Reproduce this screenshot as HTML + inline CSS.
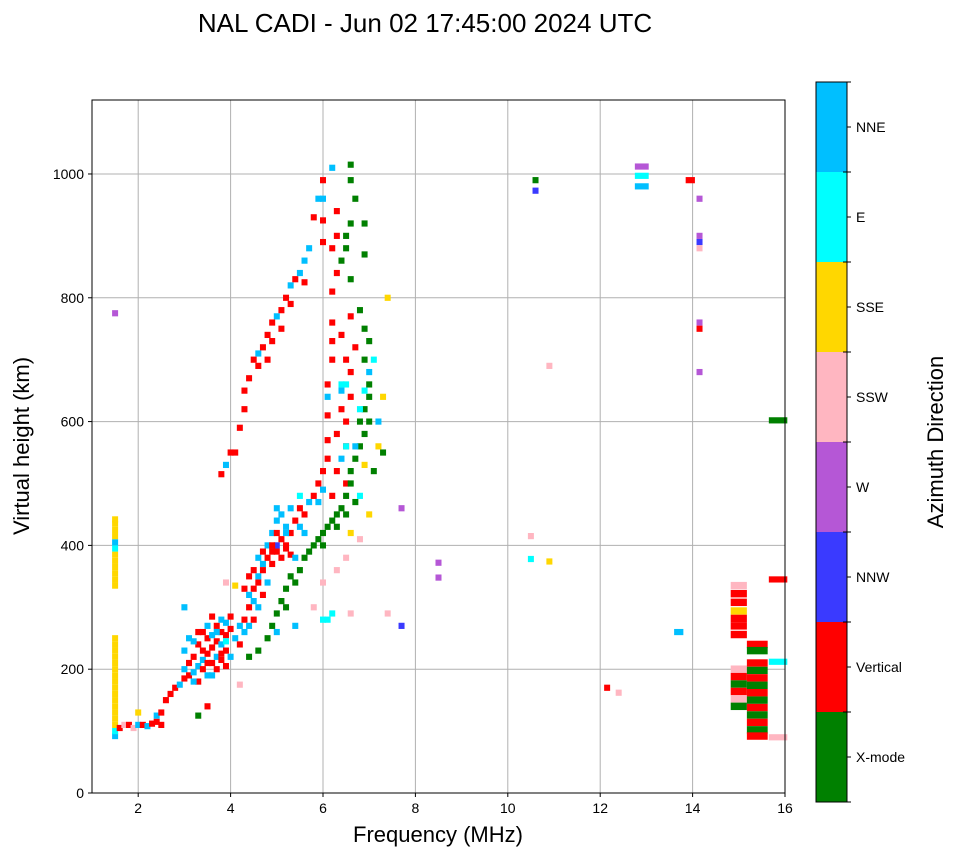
<!DOCTYPE html>
<html><head><meta charset="utf-8">
<style>
body{margin:0;background:#fff;font-family:"Liberation Sans",sans-serif;}
svg text{font-family:"Liberation Sans",sans-serif;}
</style></head>
<body>
<svg id="chart" width="958" height="857" xmlns="http://www.w3.org/2000/svg">
<text x="425" y="32" font-size="26" text-anchor="middle">NAL CADI - Jun 02 17:45:00 2024 UTC</text>
<g id="grid"></g>
<g id="cells"></g>
<rect x="92" y="100" width="693" height="693" fill="none" stroke="#000" stroke-width="1"/>
<g id="ticks"></g>
<text x="438" y="842" font-size="22" text-anchor="middle">Frequency (MHz)</text>
<text transform="translate(29,446) rotate(-90)" font-size="22" text-anchor="middle">Virtual height (km)</text>
<g id="cbar"></g>
<text transform="translate(943,442) rotate(-90)" font-size="22" text-anchor="middle">Azimuth Direction</text>
</svg>
<script>
const directions = ["X-mode","Vertical","NNW","W","SSW","SSE","E","NNE"];
const dirColors = ["#008000","#ff0000","#3a3aff","#b557d6","#ffb6c1","#ffd700","#00ffff","#00bfff"];
const xTicks = [2,4,6,8,10,12,14,16];
const yTicks = [0,200,400,600,800,1000];
// echoes: [frequency MHz, virtual height km, direction index, optional width MHz, optional height km]
const echoes = [
[2.7,160,1],[2.8,170,1],[2.9,175,7],[3.0,185,1],[3.0,200,7],[3.0,230,7],[3.0,300,7],[3.1,190,1],[3.1,210,1],[3.1,250,7],[3.2,195,7],[3.2,220,1],[3.3,180,1],[3.3,205,7],[3.3,240,1],[3.4,200,1],[3.4,215,7],[3.4,260,1],[3.5,190,7],[3.5,225,1],[3.5,250,1],[3.5,270,7],[3.6,210,1],[3.6,235,1],[3.6,255,7],[3.6,285,1],[3.7,200,1],[3.7,220,7],[3.7,245,1],[3.7,270,1],[3.8,215,1],[3.8,240,7],[3.8,260,1],[3.8,280,7],[3.9,205,1],[3.9,230,1],[3.9,255,1],[3.9,275,7],[4.0,220,7],[4.0,265,1],[4.0,285,1],
[3.2,180,7],[3.4,230,1],[3.5,210,1],[3.6,190,7],[3.7,260,7],[3.8,225,1],[3.9,245,6],[3.3,260,1],[3.2,245,7],
[4.1,250,7],[4.2,240,1],[4.2,270,7],[4.3,280,1],[4.3,260,7],[4.4,300,1],[4.4,270,7],[4.5,330,1],[4.5,280,1],[4.5,310,7],[4.6,340,1],[4.6,300,7],[4.6,350,7],[4.7,360,1],[4.7,320,1],[4.7,370,7],[4.8,380,1],[4.8,340,7],[4.8,400,7],[4.9,370,1],[4.9,390,1],[4.9,420,7],[5.0,390,1],[5.0,400,2],[5.0,440,7],[5.1,380,1],[5.1,410,1],[5.1,450,7],[5.2,400,1],[5.2,430,7],[5.3,420,1],[5.3,460,7],[5.4,440,1],[5.5,430,7],[5.5,460,1],[5.6,450,1],[5.7,470,7],[5.8,480,1],[5.9,500,1],[5.9,470,7],[6.0,520,1],[6.0,490,7],
[4.4,350,1],[4.5,360,1],[4.6,380,7],[4.7,390,1],[4.9,400,1],[5.0,420,1],[5.2,395,1],[5.3,385,1],[4.3,330,1],[4.4,320,7],
[6.1,540,1],[6.1,570,1],[6.1,610,1],[6.1,640,7],[6.1,660,1],[6.2,700,1],[6.2,730,1],[6.2,760,1],[6.2,810,1],[6.3,840,1],[6.2,880,1],[6.3,900,1],[6.3,940,1],[6.2,1010,7],[6.0,990,1],[6.0,960,7],[6.0,925,1],[6.0,890,1],[6.4,620,1],[6.4,660,6],[6.5,600,1],[6.6,640,1],[6.6,680,1],[6.5,700,1],[6.4,740,1],[6.7,720,1],[6.6,770,1],[6.3,580,1],[6.3,520,1],[6.4,540,7],[6.5,560,1],[6.5,500,1],[6.2,480,1],
[3.8,515,1],[3.9,530,7],[4.1,550,1],[4.2,590,1],[4.3,620,1],[4.3,650,1],[4.4,670,1],[4.5,700,1],[4.6,710,7],[4.6,690,1],[4.7,720,1],[4.8,740,1],[4.8,700,1],[4.9,730,1],[4.9,760,1],[5.0,770,7],[5.1,780,1],[5.1,750,1],[5.2,800,1],[5.3,790,1],[5.3,820,7],[5.4,830,1],[5.5,840,7],[5.6,860,7],[5.6,825,1],[5.7,880,7],[5.8,930,1],[5.9,960,7],[4.0,550,1],
[4.4,220,0],[4.6,230,0],[4.8,250,0],[4.9,270,0],[5.0,290,0],[5.1,310,0],[5.2,330,0],[5.2,300,0],[5.3,350,0],[5.4,340,0],[5.5,360,0],[5.6,380,0],[5.7,390,0],[5.8,400,0],[5.9,410,0],[6.0,420,0],[6.1,430,0],[6.2,440,0],[6.3,450,0],[6.4,460,0],[6.5,480,0],[6.5,450,0],[6.6,500,0],[6.6,520,0],[6.7,540,0],[6.7,470,0],[6.8,560,0],[6.8,600,0],[6.9,620,0],[6.9,580,0],[7.0,640,0],[7.0,660,0],[6.9,700,0],[7.0,730,0],[6.9,750,0],[6.8,780,0],[6.6,830,0],[6.5,880,0],[6.5,900,0],[6.6,920,0],[6.7,960,0],[6.6,990,0],[6.6,1015,0],[6.9,870,0],[6.9,920,0],[6.4,860,0],[7.3,550,0],[7.1,520,0],[7.0,600,0],[6.3,430,0],[6.0,400,0],
[6.6,420,5],[6.8,410,4],[6.5,380,4],[6.3,360,4],[6.0,340,4],[5.8,300,4],[6.2,290,6],[6.6,290,4],[7.4,290,4],[6.9,530,5],[7.2,560,5],[7.0,450,5],[6.5,660,6],[6.8,620,6],[7.1,700,6],[7.0,680,7],[6.9,650,6],[7.2,600,7],[6.7,560,7],[6.4,650,7],[6.5,560,6],[6.8,480,6],[5.5,480,6],[5.0,460,7],[5.2,420,7],[5.4,380,7],[5.6,420,7],[7.3,640,5],[7.4,800,5],[7.7,460,3],[7.7,270,2],[6.0,280,6],[6.1,280,6],[5.0,260,7],[5.4,270,7],
[1.5,92,7],[1.5,100,6],[1.5,110,5],[1.5,120,5],[1.5,130,5],[1.5,140,5],[1.5,150,5],[1.5,160,5],[1.5,170,5],[1.5,180,5],[1.5,190,5],[1.5,200,5],[1.5,210,5],[1.5,220,5],[1.5,230,5],[1.5,240,5],[1.5,250,5],[1.5,335,5],[1.5,345,5],[1.5,355,5],[1.5,365,5],[1.5,375,5],[1.5,385,5],[1.5,395,6],[1.5,405,7],[1.5,415,5],[1.5,425,5],[1.5,435,5],[1.5,442,5],[1.5,775,3],
[1.6,105,1],[1.7,110,4],[1.8,110,1],[1.9,105,4],[2.0,110,7],[2.0,130,5],[2.1,110,1],[2.2,108,7],[2.3,112,1],[2.4,115,1],[2.4,125,7],[2.5,130,1],[2.5,110,1],[2.6,150,1],
[3.5,140,1],[3.3,125,0],[4.2,175,4],[3.9,340,4],[4.1,335,5],
[8.5,372,3],[8.5,348,3],[10.5,415,4],[10.5,378,6],[10.9,374,5],[10.9,690,4],[10.6,990,0],[10.6,973,2],[12.15,170,1],[12.4,162,4],[12.9,1012,3,0.3],[12.9,997,6,0.3],[12.9,980,7,0.3],[13.95,990,1,0.2],[13.7,260,7,0.2],[14.15,960,3],[14.15,890,2],[14.15,880,4],[14.15,900,3],[14.15,760,3],[14.15,750,1],[14.15,680,3],[15.85,602,0,0.4],[15.85,345,1,0.4],[15.85,212,6,0.4],[15.85,90,4,0.4],
[15.0,335,4,0.35,12],[15.0,322,1,0.35,12],[15.0,308,1,0.35,12],[15.0,294,5,0.35,12],[15.0,282,1,0.35,12],[15.0,270,1,0.35,12],[15.0,256,1,0.35,12],[15.0,200,4,0.35,12],[15.0,188,1,0.35,12],[15.0,176,0,0.35,12],[15.0,164,1,0.35,12],[15.0,152,4,0.35,12],[15.0,140,0,0.35,12],
[15.4,240,1,0.45,12],[15.4,230,0,0.45,12],[15.4,210,1,0.45,12],[15.4,198,0,0.45,12],[15.4,186,1,0.45,12],[15.4,174,0,0.45,12],[15.4,162,1,0.45,12],[15.4,150,0,0.45,12],[15.4,138,1,0.45,12],[15.4,126,0,0.45,12],[15.4,114,1,0.45,12],[15.4,102,0,0.45,12],[15.4,92,1,0.45,12]
];
const NS="http://www.w3.org/2000/svg";
const L=92,R=785,T=100,B=793,XMIN=1,XMAX=16,YMIN=0,YMAX=1119.5;
const xs=v=>L+(v-XMIN)/(XMAX-XMIN)*(R-L);
const ys=v=>B-(v-YMIN)/(YMAX-YMIN)*(B-T);
function mk(tag,attrs,parent){const e=document.createElementNS(NS,tag);for(const k in attrs)e.setAttribute(k,attrs[k]);parent.appendChild(e);return e;}
const grid=document.getElementById('grid'),ticks=document.getElementById('ticks'),cells=document.getElementById('cells'),cbar=document.getElementById('cbar');
xTicks.forEach(v=>{const x=xs(v);
 const g=mk('line',{x1:x,x2:x,y1:T,y2:B,stroke:'#b0b0b0','stroke-width':1},grid);
 
 
 mk('line',{x1:x,x2:x,y1:B,y2:B+4,stroke:'#000'},ticks);
 const t=mk('text',{x:x,y:B+20,'font-size':14,'text-anchor':'middle'},ticks);t.textContent=v;
 
 });
yTicks.forEach(v=>{const y=ys(v);
 const g=mk('line',{x1:L,x2:R,y1:y,y2:y,stroke:'#b0b0b0','stroke-width':1},grid);
 
 
 mk('line',{x1:L-4,x2:L,y1:y,y2:y,stroke:'#000'},ticks);
 const t=mk('text',{x:L-8,y:y+5,'font-size':14,'text-anchor':'end'},ticks);t.textContent=v;
 
 });
echoes.forEach(p=>{const w=(p[3]||0.13);const h=(p[4]||10);const x0=xs(p[0]-w/2),x1=xs(p[0]+w/2);
 const r=mk('rect',{x:x0,y:ys(p[1]+h/2),width:x1-x0,height:ys(p[1]-h/2)-ys(p[1]+h/2),fill:dirColors[p[2]]},cells);
 
 });
const CT=82,CB=802,CL=816,CW=31,seg=(CB-CT)/directions.length;
directions.forEach((d,i)=>{const y=CB-(i+1)*seg;
 const r=mk('rect',{x:CL,y:y,width:CW,height:seg,fill:dirColors[i]},cbar);
 
 
 mk('line',{x1:CL+CW,x2:CL+CW+4,y1:y+seg/2,y2:y+seg/2,stroke:'#000'},cbar);
 const t=mk('text',{x:CL+CW+9,y:y+seg/2+5,'font-size':14},cbar);t.textContent=d;
 
 });
for(let i=0;i<=directions.length;i++){const y=CB-i*seg;mk('line',{x1:CL+CW-4,x2:CL+CW+4,y1:y,y2:y,stroke:'#000'},cbar);}
mk('rect',{x:CL,y:CT,width:CW,height:CB-CT,fill:'none',stroke:'#000'},cbar);
</script>
</body></html>
